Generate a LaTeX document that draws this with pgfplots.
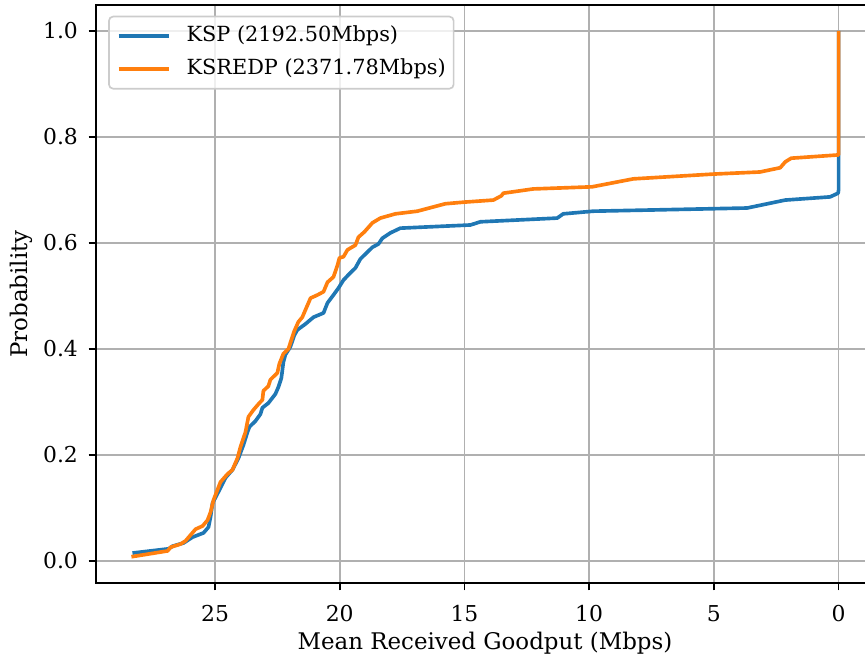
\documentclass[border=0pt]{standalone}
\usepackage{fontspec}
\setmainfont{DejaVu Serif}
\usepackage{pgfplots}
\pgfplotsset{compat=1.18}
\definecolor{mplblue}{HTML}{1F77B4}
\definecolor{mplorange}{HTML}{FF7F0E}
\definecolor{gridgray}{HTML}{B0B0B0}
\definecolor{legedge}{HTML}{CCCCCC}
\begin{document}
\begin{tikzpicture}
\begin{axis}[
  name=ax,
  scale only axis,
  width=373.4pt, height=277.6pt,
  x dir=reverse,
  xmin=-1.4175, xmax=29.77,
  ymin=-0.0416, ymax=1.0496,
  xtick={0,5,10,15,20,25},
  ytick={0,0.2,0.4,0.6,0.8,1.0},
  /pgf/number format/assume math mode=true,
  yticklabel style={/pgf/number format/fixed, /pgf/number format/fixed zerofill, /pgf/number format/precision=1, inner sep=0pt, anchor=east, xshift=-5pt},
  xticklabel style={inner sep=0pt, anchor=north, yshift=-7pt},
  tick label style={font=\fontsize{10.5}{12}\selectfont},
  label style={font=\fontsize{11}{13}\selectfont},
  tick align=outside, tick pos=left,
  major tick length=3.5pt,
  every tick/.style={black, line width=0.8pt},
  axis line style={line width=0.8pt, black},
  grid=major,
  major grid style={gridgray, line width=0.8pt},
  xlabel={Mean Received Goodput (Mbps)},
  ylabel={Probability},
  xlabel style={at={(axis description cs:0.5,0)}, anchor=center, yshift=-29pt},
  ylabel style={at={(axis description cs:-0.0964,0.5)}, anchor=center},
  legend cell align=left,
  legend image code/.code={\draw[#1] (0pt,0pt) -- (24pt,0pt);},
  legend style={
    at={(axis description cs:0,1)}, anchor=north west,
    xshift=5.8pt, yshift=-5.3pt,
    draw=legedge, line width=0.8pt, rounded corners=2pt,
    fill=white, fill opacity=0.8, text opacity=1,
    inner xsep=3.8pt, inner ysep=4.4pt,
    font=\fontsize{10}{12}\selectfont,
    nodes={inner sep=0pt, text height=7.5pt, text depth=2.5pt},
    row sep=5.8pt,
    /tikz/every odd column/.append style={column sep=7.7pt},
  },
]
\addplot[mplblue, line width=1.75pt, line join=round] coordinates {
(28.31,0.015) (26.86,0.023) (26.70,0.028) (26.26,0.034) (25.90,0.045)
(25.46,0.053) (25.26,0.064) (25.18,0.083) (25.10,0.109) (24.78,0.138)
(24.58,0.157) (24.30,0.172) (24.06,0.194) (23.86,0.219) (23.70,0.243)
(23.62,0.253) (23.38,0.264) (23.18,0.277) (23.10,0.289) (22.86,0.298)
(22.58,0.315) (22.46,0.328) (22.34,0.345) (22.26,0.375) (22.18,0.389)
(21.98,0.404) (21.82,0.426) (21.70,0.436) (21.38,0.447) (21.05,0.460)
(20.65,0.468) (20.49,0.487) (20.25,0.502) (20.05,0.515) (19.85,0.530)
(19.65,0.540) (19.37,0.553) (19.17,0.570) (18.93,0.581) (18.69,0.592)
(18.45,0.598) (18.29,0.609) (17.97,0.619) (17.57,0.628) (14.76,0.634)
(14.36,0.640) (11.28,0.647) (11.04,0.655) (9.84,0.660) (3.67,0.666)
(2.14,0.681) (0.34,0.687) (0.02,0.694) (0,0.700) (0,1.0)
};
\addlegendentry{KSP (2192.50Mbps)}
\addplot[mplorange, line width=1.75pt, line join=round] coordinates {
(28.35,0.008) (26.90,0.019) (26.78,0.026) (26.38,0.032) (26.18,0.038)
(25.98,0.049) (25.78,0.060) (25.50,0.066) (25.30,0.077) (25.18,0.092)
(25.06,0.115) (24.78,0.149) (24.50,0.164) (24.30,0.172) (24.10,0.194)
(23.98,0.215) (23.78,0.243) (23.66,0.272) (23.46,0.285) (23.26,0.296)
(23.10,0.304) (23.06,0.321) (22.86,0.330) (22.78,0.342) (22.50,0.355)
(22.42,0.372) (22.26,0.391) (22.06,0.400) (21.94,0.417) (21.82,0.434)
(21.66,0.451) (21.50,0.460) (21.29,0.483) (21.17,0.496) (20.89,0.502)
(20.65,0.508) (20.49,0.526) (20.25,0.536) (20.09,0.558) (20.01,0.572)
(19.85,0.574) (19.69,0.587) (19.37,0.596) (19.25,0.611) (19.01,0.621)
(18.69,0.638) (18.37,0.647) (17.77,0.655) (16.89,0.660) (15.77,0.674)
(15.04,0.677) (13.84,0.681) (13.52,0.689) (13.44,0.694) (12.24,0.702)
(9.88,0.706) (8.23,0.721) (5.03,0.730) (3.15,0.734) (2.34,0.742)
(2.14,0.753) (1.90,0.760) (0.06,0.766) (0,0.766) (0,1.0)
};
\addlegendentry{KSREDP (2371.78Mbps)}
\end{axis}
\pgfresetboundingbox
\path[use as bounding box] ([shift={(-46.1pt,-36.5pt)}]ax.south west) rectangle ([shift={(369.1pt,2.26pt)}]ax.north west);
\end{tikzpicture}
\end{document}
